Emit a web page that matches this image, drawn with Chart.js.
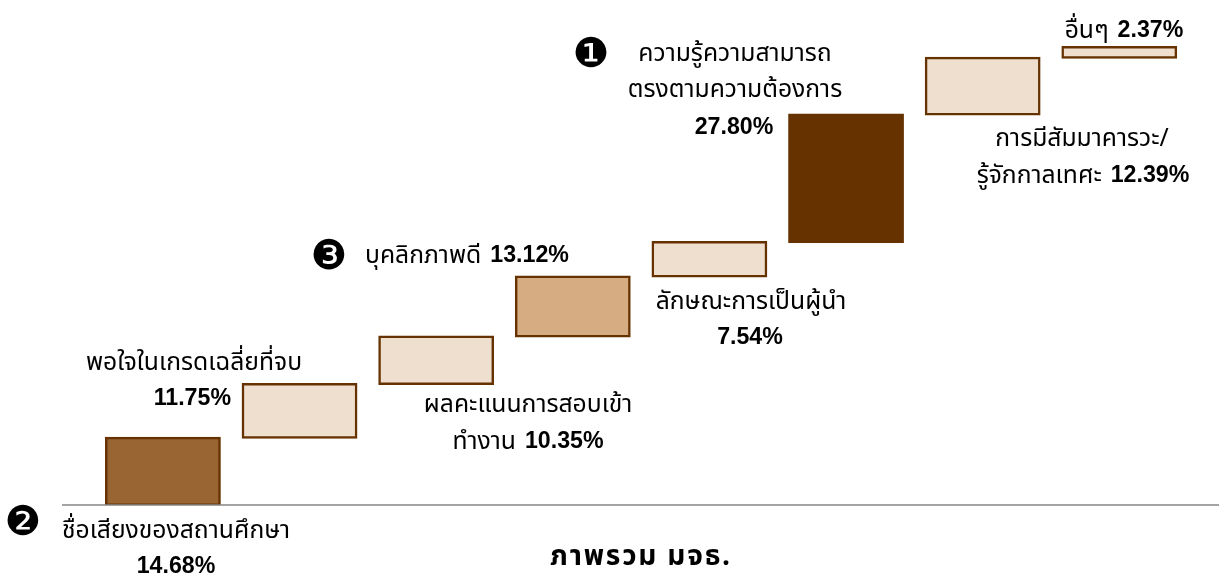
<!DOCTYPE html>
<html><head><meta charset="utf-8">
<style>html,body{margin:0;padding:0;background:#fff;overflow:hidden}#w{width:1219px;height:575px;position:relative}</style>
<script src="https://cdn.jsdelivr.net/npm/chart.js@4"></script>
</head><body><div id="w"><canvas id="c" width="1219" height="575"></canvas></div>
<script>
const categories=["ชื่อเสียงของสถานศึกษา","พอใจในเกรดเฉลี่ยที่จบ","ผลคะแนนการสอบเข้าทำงาน","บุคลิกภาพดี","ลักษณะการเป็นผู้นำ","ความรู้ความสามารถตรงตามความต้องการ","การมีสัมมาคารวะ/รู้จักกาลเทศะ","อื่นๆ"];
const values=[14.68,11.75,10.35,13.12,7.54,27.80,12.39,2.37];
const fills=["#996633","#EFDFCF","#EFDFCF","#D6AD82","#EFDFCF","#663300","#EFDFCF","#EFDFCF"];
const title="ภาพรวม มจธ.";
const ranks=[["❶",591,56],["❷",23,524],["❸",329,258]];
// text lines: [x, y, align, thai text, index of the value to append or null]
const lines=[
 [176,530,"center","ชื่อเสียงของสถานศึกษา",null],[176,566,"center","",0],
 [194,362,"center","พอใจในเกรดเฉลี่ยที่จบ",null],[231,398,"right","",1],
 [528,404,"center","ผลคะแนนการสอบเข้า",null],[528,441,"center","ทำงาน",2],
 [365,255,"left","บุคลิกภาพดี",3],
 [751,301,"center","ลักษณะการเป็นผู้นำ",null],[750,337,"center","",4],
 [735,53,"center","ความรู้ความสามารถ",null],[735,89,"center","ตรงตามความต้องการ",null],[734,127,"center","",5],
 [1082,138,"center","การมีสัมมาคารวะ/",null],[1083,175,"center","รู้จักกาลเทศะ",6],
 [1124,30,"center","อื่นๆ",7]
];
let run=0;
const ranges=values.map(v=>{const r=[run,run+v];run+=v;return r;});
const thaiFont='24.7px "Noto Sans Thai","Noto Sans","DejaVu Sans",sans-serif';
const numFont='bold 23.2px "Liberation Sans",Arial,sans-serif';
const overlay={id:"overlay",afterDatasetsDraw(ch){
  const g=ch.ctx,y0=ch.scales.y.getPixelForValue(0);
  g.save();
  g.strokeStyle="#868686";g.lineWidth=1.5;g.beginPath();g.moveTo(62,y0);g.lineTo(1219,y0);g.stroke();
  g.fillStyle="#000";g.textBaseline="middle";
  g.textAlign="center";g.font='41px "DejaVu Sans"';
  ranks.forEach(r=>g.fillText(r[0],r[1],r[2]));
  lines.forEach(l=>{
    const num=l[4]===null?"":values[l[4]].toFixed(2)+"%";
    const gap=l[3]&&num?9:0;
    g.font=thaiFont;const a=g.measureText(l[3]).width;
    g.font=numFont;const b=g.measureText(num).width;
    const w=a+gap+b;
    const x=l[2]==="center"?l[0]-w/2:l[2]==="right"?l[0]-w:l[0];
    g.textAlign="left";
    g.font=thaiFont;g.fillText(l[3],x,l[1]+3);
    g.font=numFont;g.fillText(num,x+a+gap,l[1]+1);
  });
  g.textAlign="center";g.font='bold 28px "Noto Sans Thai","Noto Sans","DejaVu Sans",sans-serif';
  g.letterSpacing="1.8px";g.fillText(title,641,559);
  g.restore();
}};
new Chart(document.getElementById("c"),{
  type:"bar",
  data:{labels:categories,datasets:[{data:ranges,backgroundColor:fills,borderColor:"#663300",borderWidth:2.5,borderSkipped:false,inflateAmount:1,categoryPercentage:1,barPercentage:0.833}]},
  options:{responsive:false,animation:false,
    layout:{padding:{left:94.6,right:31.4,top:0,bottom:70}},
    plugins:{legend:{display:false},tooltip:{enabled:false}},
    scales:{x:{display:false},y:{display:false,min:0,max:110.26}}},
  plugins:[overlay]
});
</script></body></html>
